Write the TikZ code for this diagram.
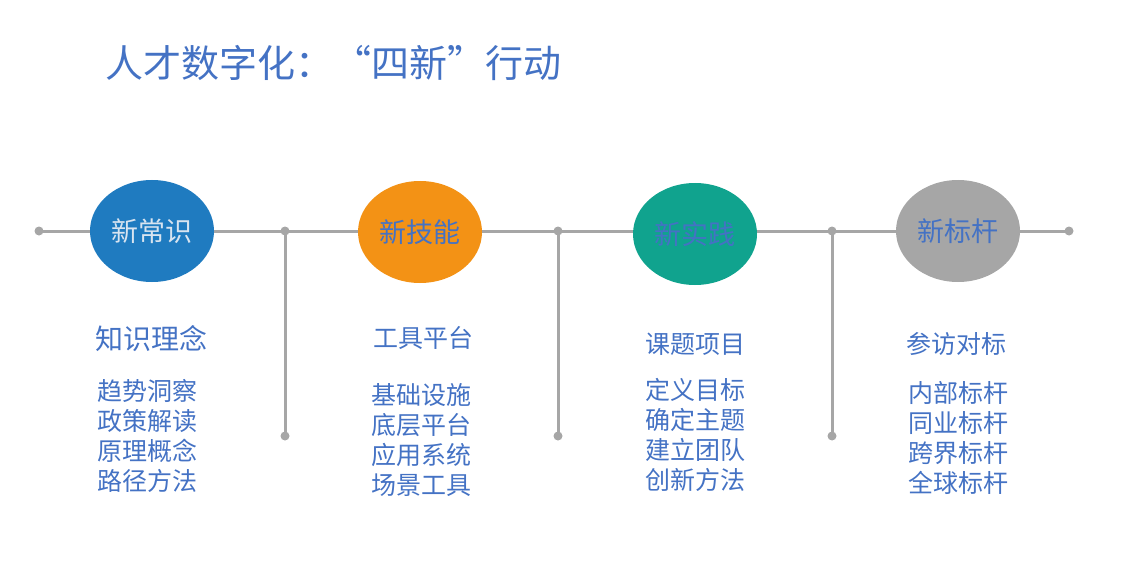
\documentclass[tikz,border=0pt]{standalone}
\usepackage{fontspec}
\newfontfamily\cjk{Noto Sans CJK SC}
\usetikzlibrary{shapes.geometric}
\definecolor{txtblue}{HTML}{4472C4}
\definecolor{lgray}{HTML}{A6A6A6}
\definecolor{cblue}{HTML}{1F7BC0}
\definecolor{corange}{HTML}{F39215}
\definecolor{cteal}{HTML}{10A38E}
\definecolor{cgray}{HTML}{A6A6A6}
\definecolor{ctext}{HTML}{D8E4F0}
\tikzset{
  axis/.style={draw=lgray,line width=3pt},
  dotn/.style={circle,fill=lgray,inner sep=0pt,minimum size=9pt},
  bub/.style={ellipse,inner sep=0pt,minimum width=124pt,minimum height=102pt,text=txtblue,font=\cjk\fontsize{27}{30}\selectfont},
  head/.style={anchor=west,inner sep=0pt,text=txtblue,font=\cjk\fontsize{25}{30}\selectfont},
  items/.style={anchor=west,inner sep=0pt,text=txtblue,align=left,font=\cjk\fontsize{25}{30}\selectfont},
}
\begin{document}
\begin{tikzpicture}[x=1pt,y=-1pt]
\useasboundingbox (0,0) rectangle (1142,572);
\node[anchor=west,inner sep=0pt,text=txtblue,font=\cjk\fontsize{38}{40}\selectfont] (title) at (105,63) {人才数字化：“四新”行动};
% dots
\node[dotn] (d0) at (39,231) {};
\node[dotn] (d5) at (1069,231) {};
\node[dotn] (j1) at (285,231) {};
\node[dotn] (j2) at (558,231) {};
\node[dotn] (j3) at (832,231) {};
\node[dotn] (b1) at (285,436) {};
\node[dotn] (b2) at (558,436) {};
\node[dotn] (b3) at (832,436) {};
\draw[axis] (d0.center) -- (d5.center);
\draw[axis] (j1.center) -- (b1.center);
\draw[axis] (j2.center) -- (b2.center);
\draw[axis] (j3.center) -- (b3.center);
% bubbles
\node[bub,fill=cblue,text=ctext] (e1) at (152,231) {新常识};
\node[bub,fill=corange] (e2) at (420,232) {新技能};
\node[bub,fill=cteal] (e3) at (695,234) {新实践};
\node[bub,fill=cgray] (e4) at (958,231) {新标杆};
% headings
\node[head,font=\cjk\fontsize{28}{30}\selectfont] (h1) at (95,339) {知识理念};
\node[head] (h2) at (373,338) {工具平台};
\node[head] (h3) at (645,344) {课题项目};
\node[head] (h4) at (906,344) {参访对标};
% items
\node[items] (i1) at (97,436) {趋势洞察\\政策解读\\原理概念\\路径方法};
\node[items] (i2) at (371,440) {基础设施\\底层平台\\应用系统\\场景工具};
\node[items] (i3) at (645,435) {定义目标\\确定主题\\建立团队\\创新方法};
\node[items] (i4) at (908,438) {内部标杆\\同业标杆\\跨界标杆\\全球标杆};
\end{tikzpicture}
\end{document}
